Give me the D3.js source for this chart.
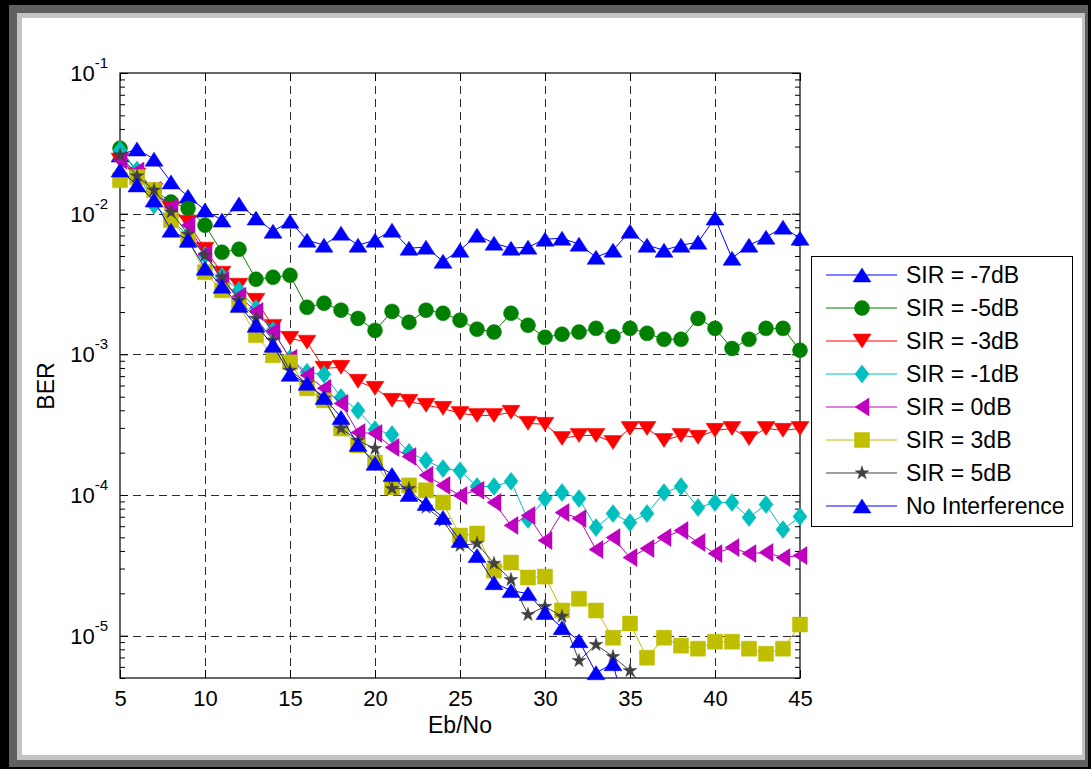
<!DOCTYPE html>
<html>
<head>
<meta charset="utf-8">
<script src="https://cdn.jsdelivr.net/npm/d3@7"></script>
<style>
  body { margin: 0; background: #fff; }
  svg { display: block; }
  text { font-family: "Liberation Sans", Arial, Helvetica, sans-serif; fill: #000; }
</style>
</head>
<body>
<svg id="chart" width="1091" height="769"></svg>
<script>
// Eb/No in dB
const ebno = [5, 6, 7, 8, 9, 10, 11, 12, 13, 14, 15, 16, 17, 18, 19, 20, 21, 22, 23, 24, 25,
              26, 27, 28, 29, 30, 31, 32, 33, 34, 35, 36, 37, 38, 39, 40, 41, 42, 43, 44, 45];

// BER for each signal-to-interference ratio
const berSirM7 = [0.0261, 0.0288, 0.0244, 0.0168, 0.0133, 0.0106, 0.0090, 0.0117, 0.0093, 0.0075,
  0.00885, 0.00648, 0.00597, 0.00727, 0.00597, 0.00648, 0.00763, 0.00568, 0.00578, 0.00459,
  0.0055, 0.00703, 0.00617, 0.00568, 0.00578, 0.00658, 0.00669, 0.00607, 0.0049, 0.0055,
  0.0075, 0.00597, 0.0055, 0.00597, 0.00627, 0.0093, 0.00482, 0.00597, 0.0068, 0.00802, 0.00669];

const berSirM5 = [0.0292, 0.0197, 0.0147, 0.0121, 0.0109, 0.00828, 0.00532, 0.00559, 0.00342, 0.00353,
  0.00365, 0.00216, 0.00231, 0.00206, 0.0018, 0.00148, 0.00202, 0.00169, 0.00206, 0.00196,
  0.00175, 0.00151, 0.00144, 0.00196, 0.00161, 0.00132, 0.00139, 0.00144, 0.00153, 0.00134,
  0.00153, 0.00141, 0.00128, 0.00128, 0.0018, 0.00153, 0.0011, 0.00128, 0.00153, 0.00153, 0.00107];

const berSirM3 = [0.0240, 0.0188, 0.0147, 0.0109, 0.0087, 0.00559, 0.00377, 0.0031, 0.00242, 0.00158,
  0.0013, 0.00122, 0.000795, 0.000808, 0.000643, 0.000573, 0.000471, 0.000463, 0.000434, 0.000413,
  0.00038, 0.000368, 0.000368, 0.000387, 0.000323, 0.000318, 0.000252, 0.000265, 0.000265, 0.000236,
  0.000297, 0.000297, 0.000244, 0.000265, 0.000257, 0.000288, 0.000297, 0.000252, 0.000297, 0.000288, 0.000297];

const berSirM1 = [0.0283, 0.0204, 0.0115, 0.0090, 0.00703, 0.00507, 0.00359, 0.00285, 0.00212, 0.00148,
  0.000936, 0.000745, 0.000721, 0.000494, 0.000399, 0.000292, 0.000269, 0.000201, 0.000176, 0.000154,
  0.000149, 0.000115, 0.000115, 0.000125, 6.69e-5, 9.44e-5, 0.000104, 9.44e-5, 5.87e-5, 7.38e-5,
  6.37e-5, 7.38e-5, 0.000104, 0.000115, 8.15e-5, 8.84e-5, 8.84e-5, 6.92e-5, 8.56e-5, 5.68e-5, 7.03e-5];

const berSir0 = [0.0240, 0.0201, 0.0147, 0.0111, 0.00828, 0.00515, 0.00336, 0.00259, 0.00202, 0.00146,
  0.000936, 0.000709, 0.000573, 0.000448, 0.000278, 0.000274, 0.000218, 0.000188, 0.000138, 0.000117,
  9.92e-5, 0.000108, 8.84e-5, 6.07e-5, 7.15e-5, 4.75e-5, 7.5e-5, 6.8e-5, 4.09e-5, 4.98e-5,
  3.59e-5, 4.16e-5, 4.98e-5, 5.59e-5, 4.59e-5, 3.83e-5, 4.23e-5, 3.83e-5, 3.9e-5, 3.59e-5, 3.71e-5];

const berSir3 = [0.0173, 0.0182, 0.0147, 0.0090, 0.00648, 0.00383, 0.00285, 0.00223, 0.00137, 0.000984,
  0.000877, 0.000573, 0.000471, 0.000297, 0.000225, 0.00017, 0.000113, 0.000117, 0.000108, 8.84e-5,
  5.15e-5, 5.32e-5, 2.9e-5, 3.31e-5, 2.59e-5, 2.63e-5, 1.51e-5, 1.83e-5, 1.51e-5, 9.67e-6,
  1.22e-5, 6.97e-6, 9.67e-6, 8.49e-6, 8.08e-6, 9.06e-6, 9.06e-6, 8.08e-6, 7.44e-6, 8.08e-6, 1.2e-5];

// these two runs stop once the error count drops out of range
const berSir5 = [0.0261, 0.0185, 0.0147, 0.01025, 0.00715, 0.00507, 0.00353, 0.00242, 0.0018, 0.00126,
  0.000769, 0.000622, 0.000486, 0.000297, 0.000244, 0.000214, 0.000111, 0.000111, 8.15e-5, 6.58e-5,
  4.37e-5, 4.52e-5, 3.26e-5, 2.5e-5, 1.41e-5, 1.61e-5, 1.37e-5, 6.64e-6, 8.63e-6, 7.09e-6,
  5.63e-6, 4.06e-6];

const berNoInterference = [0.0204, 0.016, 0.0125, 0.00763, 0.00648, 0.0041, 0.00305, 0.00223, 0.00161, 0.00116,
  0.000721, 0.000622, 0.000494, 0.000356, 0.000229, 0.000168, 0.00014, 0.000101, 8.7e-5, 6.92e-5,
  4.75e-5, 3.71e-5, 2.38e-5, 2.09e-5, 1.99e-5, 1.46e-5, 1.14e-5, 9.21e-6, 5.45e-6, 6.32e-6, 2.2e-6];

const seriesLabels = ["SIR = -7dB", "SIR = -5dB", "SIR = -3dB", "SIR = -1dB",
                      "SIR = 0dB", "SIR = 3dB", "SIR = 5dB", "No Interference"];
const seriesValues = [berSirM7, berSirM5, berSirM3, berSirM1, berSir0, berSir3, berSir5, berNoInterference];

const xTickValues = [5, 10, 15, 20, 25, 30, 35, 40, 45];
const yTickValues = [1e-5, 1e-4, 1e-3, 1e-2, 1e-1];
const yTickExponents = ["-5", "-4", "-3", "-2", "-1"];

// drawing styles, one per series
const styles = [
  { color: "#0000ff", marker: "up" },
  { color: "#008000", marker: "circle" },
  { color: "#ff0000", marker: "down" },
  { color: "#00bfbf", marker: "diamond" },
  { color: "#bf00bf", marker: "left" },
  { color: "#bfbf00", marker: "square" },
  { color: "#404040", marker: "star" },
  { color: "#0000ff", marker: "up" }
];

const markerPaths = {
  up: "M0,-7L9,7L-9,7Z",
  down: "M0,7L9,-7L-9,-7Z",
  left: "M-7,0L7,-9L7,9Z",
  diamond: "M0,-9L7,0L0,9L-7,0Z",
  square: "M-7.5,-7.5H7.5V7.5H-7.5Z",
  circle: d3.symbol(d3.symbolCircle, Math.PI * 7.5 * 7.5)(),
  star: d3.symbol(d3.symbolStar, 58)()
};

const W = 1091, H = 769;
const plot = { left: 120, right: 800, top: 73, bottom: 678 };
const svg = d3.select("#chart");

// window frame
svg.append("rect").attr("width", W).attr("height", H).attr("fill", "#000");
svg.append("rect").attr("x", 9).attr("y", 5).attr("width", 1079).attr("height", 762).attr("fill", "#606060");
svg.append("rect").attr("x", 17).attr("y", 13).attr("width", 1068).attr("height", 747).attr("fill", "#c3c3c3");
svg.append("rect").attr("x", 22).attr("y", 18).attr("width", 1060).attr("height", 737).attr("fill", "#fff");

const x = d3.scaleLinear().domain([5, 45]).range([plot.left, plot.right]);
const y = d3.scaleLog().domain([5e-6, 1e-1]).range([plot.bottom, plot.top]);

const minorY = y.ticks().filter(v => Math.abs(Math.log10(v) - Math.round(Math.log10(v))) > 1e-9);

// grid
const grid = svg.append("g").attr("stroke", "#2a2a2a").attr("stroke-width", 1)
  .attr("stroke-dasharray", "8,5").attr("fill", "none");
grid.selectAll("line.v").data(xTickValues.filter(v => v > 5 && v < 45)).join("line")
  .attr("x1", d => Math.round(x(d)) + 0.5).attr("x2", d => Math.round(x(d)) + 0.5)
  .attr("y1", plot.top).attr("y2", plot.bottom);
grid.selectAll("line.h").data(yTickValues.filter(v => v < 1e-1)).join("line")
  .attr("y1", d => Math.round(y(d)) + 0.5).attr("y2", d => Math.round(y(d)) + 0.5)
  .attr("x1", plot.left).attr("x2", plot.right);

// axes (ticks point inward)
function styleAxis(g) {
  g.select(".domain").remove();
  g.selectAll(".tick line").attr("stroke", "#000");
}
svg.append("g").attr("transform", `translate(0,${plot.bottom})`)
  .call(d3.axisBottom(x).tickValues(xTickValues).tickSize(-8).tickPadding(12).tickFormat(d3.format("d")))
  .call(styleAxis)
  .call(g => g.selectAll("text").attr("font-size", 22).attr("font-family", "Liberation Sans, Arial, sans-serif"));
svg.append("g").attr("transform", `translate(0,${plot.top})`)
  .call(d3.axisTop(x).tickValues(xTickValues).tickSize(-8).tickFormat(""))
  .call(styleAxis);
svg.append("g").attr("transform", `translate(${plot.left},0)`)
  .call(d3.axisLeft(y).tickValues(yTickValues).tickSize(-8).tickFormat(""))
  .call(styleAxis);
svg.append("g").attr("transform", `translate(${plot.left},0)`)
  .call(d3.axisLeft(y).tickValues(minorY).tickSize(-5).tickFormat(""))
  .call(styleAxis);
svg.append("g").attr("transform", `translate(${plot.right},0)`)
  .call(d3.axisRight(y).tickValues(yTickValues).tickSize(-8).tickFormat(""))
  .call(styleAxis);
svg.append("g").attr("transform", `translate(${plot.right},0)`)
  .call(d3.axisRight(y).tickValues(minorY).tickSize(-5).tickFormat(""))
  .call(styleAxis);

// decade labels 10^n
const yLabels = svg.append("g").attr("text-anchor", "end");
yTickValues.forEach((v, i) => {
  const t = yLabels.append("text").attr("x", 108).attr("y", y(v) + 8).attr("font-size", 22);
  t.append("tspan").text("10");
  t.append("tspan").attr("font-size", 15).attr("dy", -13).text(yTickExponents[i]);
});

// plot box
svg.append("rect").attr("x", plot.left).attr("y", plot.top)
  .attr("width", plot.right - plot.left).attr("height", plot.bottom - plot.top)
  .attr("fill", "none").attr("stroke", "#000").attr("stroke-width", 1.2);

// axis titles
svg.append("text").attr("x", 460).attr("y", 733).attr("text-anchor", "middle")
  .attr("font-size", 23).text("Eb/No");
svg.append("text").attr("transform", "translate(54,386) rotate(-90)").attr("text-anchor", "middle")
  .attr("font-size", 23).text("BER");

// series
svg.append("clipPath").attr("id", "plot-clip").append("rect")
  .attr("x", plot.left).attr("y", plot.top)
  .attr("width", plot.right - plot.left).attr("height", plot.bottom - plot.top);

const line = d3.line().x(d => x(d.x)).y(d => y(d.v));
const minBer = y.domain()[0];

seriesValues.forEach((vals, i) => {
  const st = styles[i];
  const pts = vals.map((v, k) => ({ x: ebno[k], v }));
  const g = svg.append("g");
  g.append("path").datum(pts).attr("d", line)
    .attr("clip-path", "url(#plot-clip)")
    .attr("fill", "none").attr("stroke", st.color).attr("stroke-width", 1);
  g.selectAll("path.m").data(pts.filter(p => p.v >= minBer)).join("path")
    .attr("class", "m")
    .attr("transform", p => `translate(${x(p.x)},${y(p.v)})`)
    .attr("d", markerPaths[st.marker])
    .attr("fill", st.color).attr("stroke", st.color).attr("stroke-width", 0.5);
});

// legend
const legend = svg.append("g");
legend.append("rect").attr("x", 811.5).attr("y", 256.5).attr("width", 261).attr("height", 270)
  .attr("fill", "#fff").attr("stroke", "#000").attr("stroke-width", 1);
seriesLabels.forEach((label, i) => {
  const st = styles[i];
  const cy = 275 + i * 33;
  legend.append("line").attr("x1", 826).attr("x2", 897).attr("y1", cy).attr("y2", cy)
    .attr("stroke", st.color).attr("stroke-width", 1);
  legend.append("path").attr("transform", `translate(862,${cy})`).attr("d", markerPaths[st.marker])
    .attr("fill", st.color).attr("stroke", st.color).attr("stroke-width", 0.5);
  legend.append("text").attr("x", 906).attr("y", cy).attr("dy", "0.36em")
    .attr("font-size", 23).text(label);
});
</script>
</body>
</html>
